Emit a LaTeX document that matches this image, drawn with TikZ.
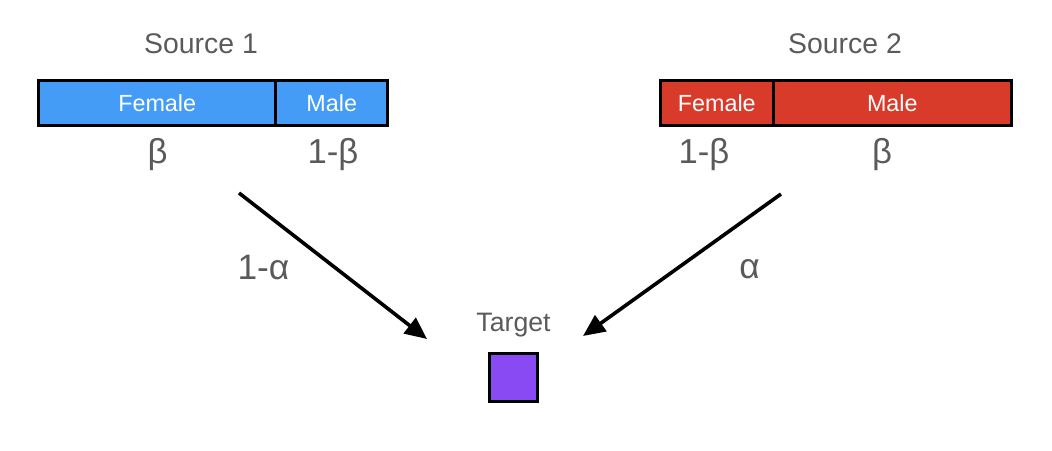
\documentclass[tikz,border=0pt]{standalone}
\usepackage{fontspec}
\setmainfont{Liberation Sans}
\usetikzlibrary{arrows.meta}
\definecolor{srcblue}{HTML}{449CF6}
\definecolor{srcred}{HTML}{D93B2B}
\definecolor{tgtpurple}{HTML}{8A4AF3}
\definecolor{txtgray}{HTML}{5A5A5A}
\begin{document}
\begin{tikzpicture}[x=0.75pt,y=-0.75pt,
  seg/.style={draw=black,line width=2.25pt,inner sep=0pt,outer sep=0pt,minimum height=33.75pt,
    text=white,font=\fontsize{17.5}{20}\selectfont,anchor=west},
  title/.style={text=txtgray,font=\fontsize{21.3}{24}\selectfont},
  frac/.style={text=txtgray,font=\fontsize{26}{29}\selectfont},
  wlabel/.style={text=txtgray,font=\fontsize{26.5}{29}\selectfont},
  flow/.style={line width=2.7pt,-{Triangle[length=16.5pt,width=14.5pt]}}]
\useasboundingbox (0,0) rectangle (1052,450);
% Source 1
\node[title] (s1) at (201,44) {Source 1};
\node[seg,fill=srcblue,minimum width=178.1pt] (s1f) at (38.5,103) {Female};
\node[seg,fill=srcblue,minimum width=83.6pt] (s1m) at (s1f.east) {Male};
\node[frac,anchor=base] (s1b) at (157.5,163) {β};
\node[frac,anchor=base] (s1mb) at (333,163) {1-β};
% Source 2
\node[title] (s2) at (845,44) {Source 2};
\node[seg,fill=srcred,minimum width=84.4pt] (s2f) at (660.5,103) {Female};
\node[seg,fill=srcred,minimum width=178.9pt] (s2m) at (s2f.east) {Male};
\node[frac,anchor=base] (s2fb) at (704,163) {1-β};
\node[frac,anchor=base] (s2mb) at (882,163) {β};
% Target
\node[text=txtgray,font=\fontsize{20}{23}\selectfont,anchor=base] (tl) at (513.5,331) {Target};
\node[draw=black,line width=2.25pt,fill=tgtpurple,minimum size=36pt,inner sep=0pt] (tgt) at (513.5,377.5) {};
% Arrows
\coordinate (a1s) at (239,193);
\coordinate (a1e) at (427,339);
\coordinate (a2s) at (781,194);
\coordinate (a2e) at (583,336);
\draw[flow] (a1s) -- (a1e);
\draw[flow] (a2s) -- (a2e);
\node[wlabel,anchor=base] (l1) at (263.5,279) {1-α};
\node[wlabel,anchor=base] (l2) at (749.5,278) {α};
\end{tikzpicture}
\end{document}
